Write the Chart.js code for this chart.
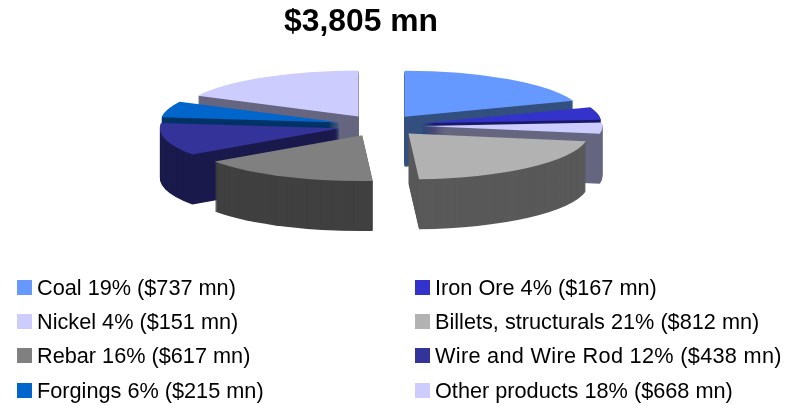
<!DOCTYPE html>
<html>
<head>
<meta charset="utf-8">
<script src="https://cdn.jsdelivr.net/npm/chart.js@4"></script>
<style>
html,body{margin:0;padding:0;background:#fff;overflow:hidden}
#wrap{position:relative;width:800px;height:405px}
#legend div{position:absolute;height:24px;line-height:24px;font:21.7px "Liberation Sans",Arial,sans-serif;color:#000;white-space:nowrap}
#legend i{position:absolute;left:0;top:4px;width:15px;height:15px}
#legend span{position:absolute;left:20px;top:-1px}
#legend .wide{letter-spacing:.3px}
</style>
</head>
<body>
<div id="wrap">
<canvas id="pie" width="800" height="405"></canvas>
<div id="legend"></div>
</div>
<script>
const products=['Coal','Iron Ore','Nickel','Billets, structurals','Rebar','Wire and Wire Rod','Forgings','Other products'];
const values=[737,167,151,812,617,438,215,668];
const shares=[19,4,4,21,16,12,6,18];
const topColors=['#6699FF','#3333CC','#CCCCFF','#B2B2B2','#808080','#333399','#0066CC','#CCCCFF'];
const sideColors=['#33507F','#1A1A66','#666680','#595959','#404040','#1A1A4D','#003366','#666680'];
const drawOrder=[0,7,6,1,2,5,3,4]; // back slices first
const squash=0.255, depth=50, pieX=380.5, pieY=125.5, explode=42;

const fake3d={
 id:'fake3d',
 beforeDatasetsDraw(c){
  const ctx=c.ctx, arcs=c.getDatasetMeta(0).data;
  const cx=arcs[0].x, cy=arcs[0].y;
  const paint=(a,col,d)=>{
   const o=a.options, mid=(a.startAngle+a.endAngle)/2;
   ctx.save();
   ctx.translate(pieX,pieY+d);
   ctx.scale(1,squash);
   ctx.translate(Math.cos(mid)*explode-cx,Math.sin(mid)*explode-cy);
   a.options={...o,backgroundColor:col};
   a.draw(ctx);
   a.options=o;
   ctx.restore();
  };
  drawOrder.forEach(i=>{
   for(let d=depth;d>0;d--)paint(arcs[i],sideColors[i],d);
   paint(arcs[i],topColors[i],0);
  });
  return false;
 }
};

new Chart(document.getElementById('pie'),{
 type:'pie',
 data:{labels:products,datasets:[{data:values,backgroundColor:topColors,borderWidth:0}]},
 options:{
  responsive:false,animation:false,events:[],radius:180,
  layout:{padding:{right:78,top:0}},
  plugins:{
   legend:{display:false},tooltip:{enabled:false},
   title:{display:true,text:'$3,805 mn',color:'#000',padding:{top:3,bottom:6},font:{family:'"Liberation Sans",Arial,sans-serif',size:31.8,weight:'bold'}}
  }
 },
 plugins:[fake3d]
});

const rowY=[276,310,344,379], colX=[17,415];
products.forEach((p,i)=>{
 const d=document.createElement('div');
 d.style.left=colX[i%2]+'px';
 d.style.top=rowY[i>>1]+'px';
 d.innerHTML='<i style="background:'+topColors[i]+'"></i><span'+(i==5?' class="wide"':'')+'>'+p+' '+shares[i]+'% ($'+values[i]+' mn)</span>';
 document.getElementById('legend').appendChild(d);
});
</script>
</body>
</html>
